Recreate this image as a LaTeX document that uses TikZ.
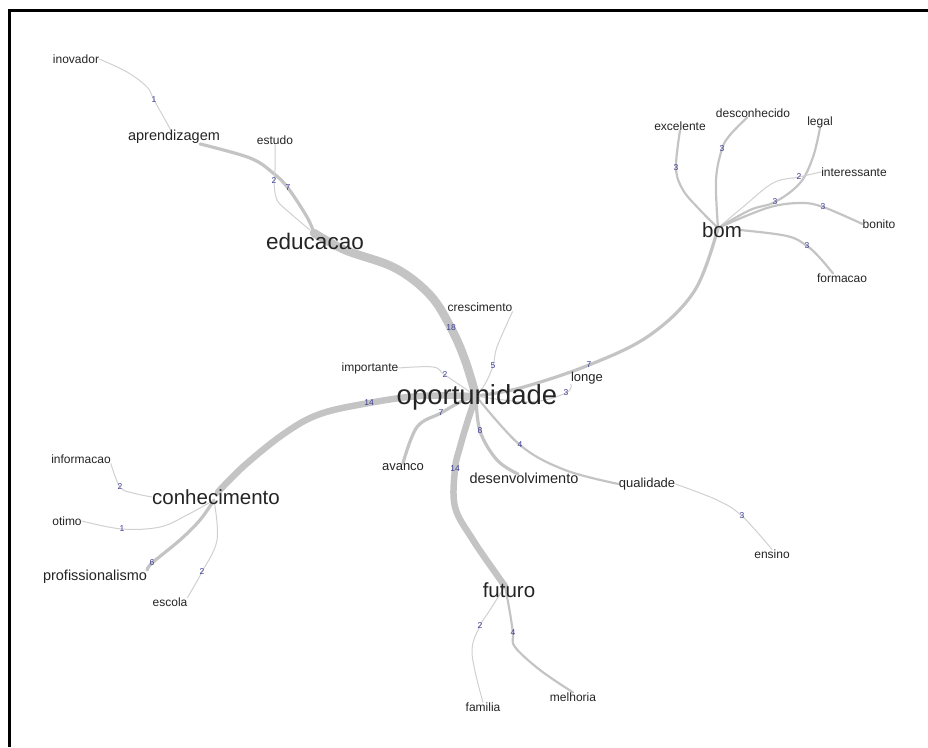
\documentclass[tikz,border=0pt]{standalone}
\usepackage{fontspec}
\setmainfont{Liberation Sans}
\usetikzlibrary{backgrounds}
\definecolor{edgec}{HTML}{C4C4C4}
\definecolor{thinc}{HTML}{D0D0D0}
\definecolor{labc}{HTML}{3C3C96}
\definecolor{txtc}{HTML}{242424}
\tikzset{
  word/.style={inner sep=0pt, text=txtc, font=\fontsize{12}{12}\selectfont},
  wordn/.style={inner sep=0pt, text=txtc, font=\fontsize{13}{14}\selectfont},
  wordm/.style={inner sep=0pt, text=txtc, font=\fontsize{14.5}{15}\selectfont},
  wordl/.style={inner sep=0pt, text=txtc, font=\fontsize{20.5}{21}\selectfont},
  wordh/.style={inner sep=0pt, text=txtc, font=\fontsize{27.5}{28}\selectfont},
  lab/.style={inner sep=0pt, text=labc, font=\fontsize{8.5}{9}\selectfont},
  ethin/.style={draw=thinc, line width=1pt, line cap=round},
  emid/.style={draw=edgec, line width=2.2pt, line cap=round},
  ewide/.style={draw=edgec, line width=3.2pt, line cap=round},
  ethick/.style={draw=edgec, line width=6.5pt, line cap=round},
  ehuge/.style={draw=edgec, line width=8.5pt, line cap=round},
  sm/.style={smooth, tension=0.6},
  frameline/.style={draw=black, line width=3pt}
}
\begin{document}
\begin{tikzpicture}[x=1pt,y=-1pt]
\useasboundingbox (0,0) rectangle (928,747);
\draw[frameline] (9,747) -- (9,10) -- (928,10);

% hub coordinates
\coordinate (hO) at (476,396);
\coordinate (hE) at (314,233);
\coordinate (hA) at (171,131);
\coordinate (hB) at (718,228);
\coordinate (hC) at (214,500);
\coordinate (hF) at (505,586);

% edge labels
\node[lab] (l1) at (154,100) {1};
\node[lab] (l2) at (274,181) {2};
\node[lab] (l3) at (288,188) {7};
\node[lab] (l4) at (451,328) {18};
\node[lab] (l5) at (493,366) {5};
\node[lab] (l6) at (445,375) {2};
\node[lab] (l7) at (369,403) {14};
\node[lab] (l8) at (441,413) {7};
\node[lab] (l9) at (480,431) {8};
\node[lab] (l10) at (520,445) {4};
\node[lab] (l11) at (455,469) {14};
\node[lab] (l12) at (589,365) {7};
\node[lab] (l13) at (566,393) {3};
\node[lab] (l14) at (742,516) {3};
\node[lab] (l15) at (676,168) {3};
\node[lab] (l16) at (722,149) {3};
\node[lab] (l17) at (799,177) {2};
\node[lab] (l18) at (775,202) {3};
\node[lab] (l19) at (823,207) {3};
\node[lab] (l20) at (807,246) {3};
\node[lab] (l21) at (120,487) {2};
\node[lab] (l22) at (122,529) {1};
\node[lab] (l23) at (152,563) {6};
\node[lab] (l24) at (202,572) {2};
\node[lab] (l25) at (480,626) {2};
\node[lab] (l26) at (513,633) {4};

% words
\node[wordh] (oport) at (477,397) {oportunidade};
\node[wordl, font=\fontsize{22.5}{23}\selectfont] (educ) at (315,241) {educacao};
\node[wordl] (conh) at (216,497) {conhecimento};
\node[wordl] (bom) at (722,230) {bom};
\node[wordl] (fut) at (509,590) {futuro};
\node[wordm] (aprend) at (174,137) {aprendizagem};
\node[wordm] (desenv) at (524,478) {desenvolvimento};
\node[wordm] (prof) at (95,577) {profissionalismo};
\node[wordn] (longe) at (587,378) {longe};
\node[wordn] (qual) at (647,484) {qualidade};
\node[wordn] (avanco) at (403,467) {avanco};
\node[word] (inov) at (76,59) {inovador};
\node[word] (estudo) at (275,140) {estudo};
\node[word] (cresc) at (480,307) {crescimento};
\node[word] (import) at (370,368) {importante};
\node[word] (ensino) at (772,554) {ensino};
\node[word] (excel) at (680,126) {excelente};
\node[word] (descon) at (753,113) {desconhecido};
\node[word] (legal) at (820,122) {legal};
\node[word] (interes) at (854,172) {interessante};
\node[word] (bonito) at (879,224) {bonito};
\node[word] (formacao) at (842,278) {formacao};
\node[word] (informacao) at (81,459) {informacao};
\node[word] (otimo) at (67,521) {otimo};
\node[word] (escola) at (170,602) {escola};
\node[word] (familia) at (483,707) {familia};
\node[word] (melhoria) at (573,697) {melhoria};

\begin{pgfonlayer}{background}
% educacao cluster
\draw[ethin] plot[sm] coordinates {(inov.east) (127,72) (147,87) (l1.center) (168,125) (hA)};
\draw[ewide] plot[sm] coordinates {([xshift=26pt]aprend.south) (250,158) (273,173) (l3.center) (307,217) (hE)};
\draw[ethin] plot[sm] coordinates {(estudo.south) (275,170) (l2.center) (277,200) (290,213) (310,230)};
\draw[ehuge] plot[sm] coordinates {(hE) (345,250) (395,268) (430,295) (l4.center) (465,360) (hO)};
% oportunidade spokes
\draw[ethin] plot[sm] coordinates {(cresc.south east) (497,347) (l5.center) (485,384) (hO)};
\draw[ethin] plot[sm] coordinates {(import.east) (433,367) (l6.center) (hO)};
\draw[ethick] plot[sm] coordinates {(hO) (420,396) (l7.center) (320,414) (285,433) (245,465) (218,492)};
\draw[ewide] plot[sm] coordinates {(avanco.north) (417,427) (l8.center) (460,402) (hO)};
\draw[ethick] plot[sm] coordinates {(hO) (468,420) (460,447) (l11.center) (455,507) (473,540) (497,575) (hF)};
\draw[ewide] plot[sm] coordinates {(hO) (l9.center) (497,460) (518,474)};
\draw[emid] plot[sm] coordinates {(hO) (l10.center) (565,470) (qual.west)};
\draw[ewide] plot[sm] coordinates {(hO) (520,388) (l12.center) (650,335) (695,290) (hB)};
\draw[ethin] plot[sm] coordinates {(longe.south west) (l13.center) (530,402) (hO)};
\draw[ethin] plot[sm] coordinates {(qual.east) (717,500) (l14.center) (ensino.north)};
% bom cluster
\draw[emid] plot[sm] coordinates {(excel.south) (l15.center) (683,190) (700,210) (hB)};
\draw[emid] plot[sm] coordinates {([xshift=-6pt]descon.south) (730,135) (l16.center) (716,180) (hB)};
\draw[emid] plot[sm] coordinates {(legal.south) (813,157) (800,183) (l18.center) (750,210) (hB)};
\draw[ethin] plot[sm] coordinates {(interes.west) (l17.center) (773,183) (743,207) (hB)};
\draw[emid] plot[sm] coordinates {(bonito.west) (l19.center) (800,203) (767,208) (hB)};
\draw[emid] plot[sm] coordinates {([xshift=-9pt]formacao.north) (820,258) (l20.center) (787,236) (740,230)};
% conhecimento cluster
\draw[ethin] plot[sm] coordinates {(informacao.south east) (l21.center) (133,493) (conh.west)};
\draw[ethin] plot[sm] coordinates {(otimo.east) (l22.center) (160,527) (187,515) (hC)};
\draw[ewide] plot[sm] coordinates {(prof.north east) (l23.center) (180,540) (200,520) (hC)};
\draw[ethin] plot[sm] coordinates {(escola.north east) (l24.center) (217,540) (hC)};
% futuro cluster
\draw[ethin] plot[sm] coordinates {(familia.north) (472,653) (l25.center) (490,610) (hF)};
\draw[emid] plot[sm] coordinates {(melhoria.north) (540,670) (515,647) (l26.center) (510,613) (hF)};
\end{pgfonlayer}
\end{tikzpicture}
\end{document}
